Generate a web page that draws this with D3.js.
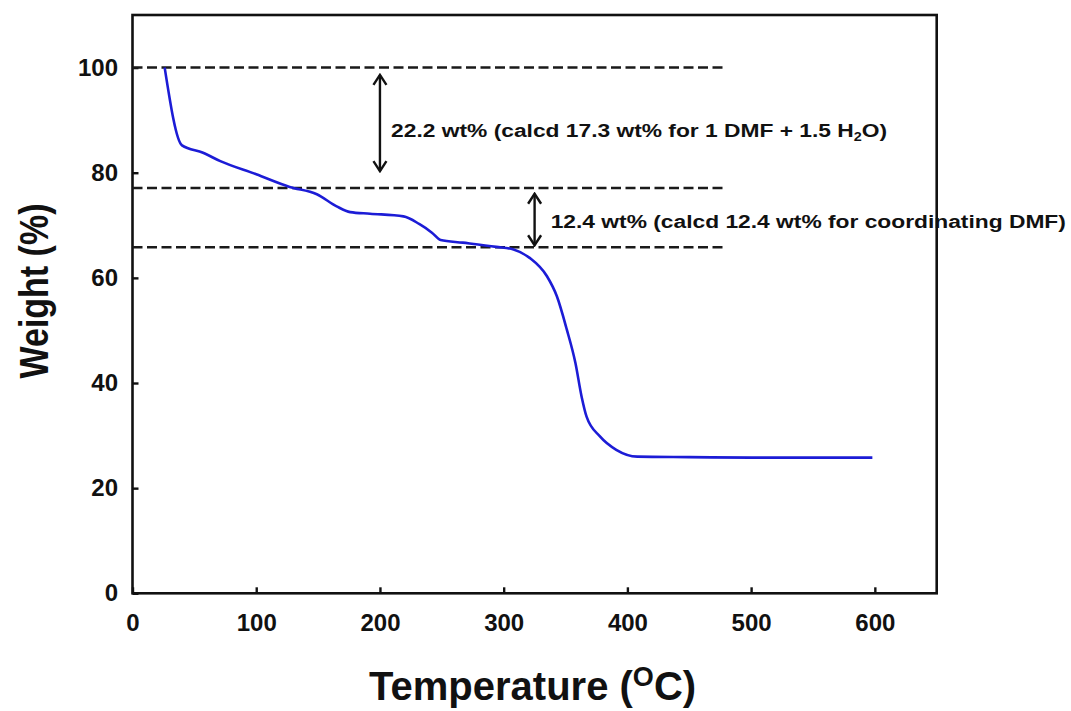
<!DOCTYPE html>
<html lang="en">
<head>
  <meta charset="UTF-8">
  <title>TGA curve</title>
  <script src="https://d3js.org/d3.v7.min.js"></script>
  <style>
    body {
      margin: 0;
      background-color: #fff;
      font-family: "Liberation Sans", Arial, sans-serif;
    }

    .axis text {
      font-size: 24px;
      font-weight: bold;
      fill: #111;
    }

    .axis path,
    .axis line {
      stroke: #111;
      stroke-width: 2.4px;
    }

    .guide {
      stroke: #1a1a1a;
      stroke-width: 2.5px;
      stroke-dasharray: 10 4.5;
    }

    .note {
      font-size: 19px;
      font-weight: bold;
      fill: #111;
    }
  </style>
</head>
<body>
  <script>
    // TGA data
    const temps = [26, 40, 57, 71, 100, 127, 149, 165, 176, 192, 219, 232, 242, 249, 267, 294, 308, 321, 335, 343, 351, 358, 363, 367, 378, 391, 408, 450, 500, 550, 598];
    const weights = [100, 85.2, 83.8, 82.2, 79.7, 77.3, 75.9, 73.6, 72.5, 72.2, 71.7, 70.2, 68.6, 67.2, 66.7, 65.9, 65.4, 63.8, 60.3, 56.5, 50.2, 43.8, 37.4, 33.6, 29.8, 27.3, 26.0, 25.9, 25.8, 25.8, 25.8];

    const xTicks = [0, 100, 200, 300, 400, 500, 600];
    const yTicks = [0, 20, 40, 60, 80, 100];

    // dashed reference levels and the arrows between them
    const levels = [100, 77.1, 65.8];
    const levelEnd = 480;
    const arrowT = [200, 325];
    const arrowTop = [98.6, 76.0];
    const arrowBottom = [80.3, 66.2];
    const notes = [
      ["22.2 wt% (calcd 17.3 wt% for 1 DMF + 1.5 H", "2", "O)"],
      ["12.4 wt% (calcd 12.4 wt% for coordinating DMF)", "", ""]
    ];
    const noteT = [209, 338];
    const noteW = [86.7, 69.5];

    const width = 1071, height = 711;
    const margin = { top: 15, right: 134.3, bottom: 117.7, left: 132.5 };

    const svg = d3.select("body").append("svg")
      .attr("width", width)
      .attr("height", height);

    const x = d3.scaleLinear().domain([0, 650]).range([margin.left, width - margin.right]);
    const y = d3.scaleLinear().domain([0, 110]).range([height - margin.bottom, margin.top]);

    // frame
    svg.append("rect")
      .attr("x", x(0)).attr("y", y(110))
      .attr("width", x(650) - x(0)).attr("height", y(0) - y(110))
      .attr("fill", "none").attr("stroke", "#111").attr("stroke-width", 2.6);

    svg.append("g")
      .attr("class", "axis")
      .attr("transform", `translate(0,${y(0)})`)
      .call(d3.axisBottom(x).tickValues(xTicks).tickSize(-6).tickPadding(21))
      .call(g => g.select(".domain").remove());

    svg.append("g")
      .attr("class", "axis")
      .attr("transform", `translate(${x(0)},0)`)
      .call(d3.axisLeft(y).tickValues(yTicks).tickSize(-6).tickPadding(14.5))
      .call(g => g.select(".domain").remove());

    // dashed guide lines
    svg.selectAll(".guide")
      .data(levels)
      .join("line")
      .attr("class", "guide")
      .attr("x1", x(0)).attr("x2", x(levelEnd))
      .attr("y1", d => y(d)).attr("y2", d => y(d));

    // the curve
    const line = d3.line()
      .x((d, i) => x(temps[i]))
      .y(d => y(d))
      .curve(d3.curveMonotoneX);

    svg.append("path")
      .datum(weights)
      .attr("fill", "none")
      .attr("stroke", "#1c1cd6")
      .attr("stroke-width", 2.6)
      .attr("d", line);

    // double arrows
    const defs = svg.append("defs");
    defs.append("marker")
      .attr("id", "head")
      .attr("viewBox", "-12 -8 14 16")
      .attr("refX", 0).attr("refY", 0)
      .attr("markerWidth", 14).attr("markerHeight", 16)
      .attr("markerUnits", "userSpaceOnUse")
      .attr("orient", "auto-start-reverse")
      .append("path")
      .attr("d", "M-10,-6.5 L0,0 L-10,6.5")
      .attr("fill", "none")
      .attr("stroke", "#111")
      .attr("stroke-width", 2.4);

    arrowT.forEach((t, i) => {
      svg.append("line")
        .attr("x1", x(t)).attr("x2", x(t))
        .attr("y1", y(arrowTop[i])).attr("y2", y(arrowBottom[i]))
        .attr("stroke", "#111")
        .attr("stroke-width", 2.4)
        .attr("marker-start", "url(#head)")
        .attr("marker-end", "url(#head)");
    });

    // stretch the notes a little like the original
    notes.forEach((parts, i) => {
      const t = svg.append("text")
        .attr("class", "note")
        .attr("transform", `translate(${x(noteT[i])},${y(noteW[i])}) scale(1.2,1)`);
      t.append("tspan").text(parts[0]);
      if (parts[1]) {
        t.append("tspan").attr("font-size", "12px").attr("dy", 4).text(parts[1]);
        t.append("tspan").attr("dy", -4).text(parts[2]);
      }
    });

    // axis titles
    const xt = svg.append("text")
      .attr("x", (x(0) + x(650)) / 2 - 2)
      .attr("y", 700)
      .attr("text-anchor", "middle")
      .attr("font-size", "40px")
      .attr("font-weight", "bold")
      .attr("fill", "#111");
    xt.append("tspan").text("Temperature (");
    xt.append("tspan").attr("font-size", "27px").attr("dy", -14).text("O");
    xt.append("tspan").attr("dy", 14).text("C)");

    svg.append("text")
      .attr("transform", "translate(33,291) rotate(-90) scale(1,1.2)")
      .attr("text-anchor", "middle")
      .attr("dy", "0.36em")
      .attr("font-size", "34px")
      .attr("font-weight", "bold")
      .attr("fill", "#111")
      .text("Weight (%)");
  </script>
</body>
</html>
